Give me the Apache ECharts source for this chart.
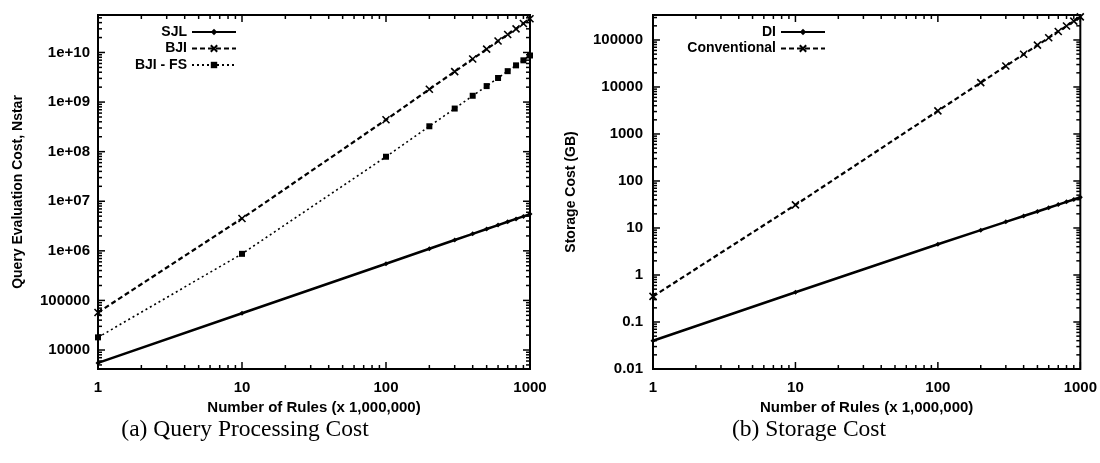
<!DOCTYPE html>
<html>
<head>
<meta charset="utf-8">
<script src="https://cdn.jsdelivr.net/npm/echarts@6/dist/echarts.min.js"></script>
<style>
  html, body { margin: 0; padding: 0; background: #fff; }
  #chart { width: 1100px; height: 463px; }
</style>
</head>
<body>
<div id="chart"></div>
<script>
// number of rules (x 1,000,000)
var rules = [1, 10, 100, 200, 300, 400, 500, 600, 700, 800, 900, 1000];

// (a) query evaluation cost, Nstar
var sjl = [5500, 55000, 550000, 1100000, 1650000, 2200000, 2750000, 3300000, 3850000, 4400000, 4950000, 5500000];
var bji = [57000, 4.5e6, 4.4e8, 1.81e9, 4.12e9, 7.4e9, 1.17e10, 1.7e10, 2.3e10, 3.0e10, 3.85e10, 4.8e10];
var bjiFs = [18000, 8.7e5, 7.9e7, 3.25e8, 7.4e8, 1.34e9, 2.1e9, 3.06e9, 4.2e9, 5.5e9, 6.95e9, 8.7e9];

// (b) storage cost (GB)
var di = [0.04, 0.43, 4.5, 9.0, 13.5, 18, 22.5, 27, 31.5, 36, 40.5, 45];
var conventional = [0.35, 31, 3100, 12400, 27900, 49600, 77500, 111600, 151900, 198400, 251100, 310000];

// ticks
var xMajor = [1, 10, 100, 1000];
var yMajorA = [1e4, 1e5, 1e6, 1e7, 1e8, 1e9, 1e10];
var yMajorB = [0.01, 0.1, 1, 10, 100, 1000, 10000, 100000];

function minorsOf(lo, hi) {
  var out = [];
  for (var d = Math.floor(Math.log10(lo)); d <= Math.ceil(Math.log10(hi)); d++) {
    for (var k = 2; k <= 9; k++) {
      var v = k * Math.pow(10, d);
      if (v > lo && v < hi) out.push(v);
    }
  }
  return out;
}

var yMinA = 4140, yMaxA = 5.7e10;
var yMinB = 0.01, yMaxB = 3.4e5;

var FONT = 'Liberation Sans';

function expLabel(v) {
  var e = Math.round(Math.log10(v));
  if (Math.abs(v / Math.pow(10, e) - 1) > 1e-6) return '';
  if (e >= 6) return '1e+' + (e < 10 ? '0' : '') + e;
  if (e < 0) return Math.pow(10, e).toFixed(-e);
  return String(Math.pow(10, e));
}

function pairs(ys) {
  return rules.map(function (x, i) { return [x, ys[i]]; });
}

var cross = 'path://M0,0L10,10M10,0L0,10';

function xAxisFor(grid) {
  return {
    type: 'log', logBase: 10, gridIndex: grid, min: 1, max: 1000,
    name: 'Number of Rules (x 1,000,000)', nameLocation: 'middle', nameGap: 22,
    nameTextStyle: { fontFamily: FONT, fontSize: 15, fontWeight: 'bold', color: '#000' },
    axisLine: { show: false }, axisTick: { show: false }, splitLine: { show: false },
    axisLabel: { formatter: expLabel, margin: 11, fontFamily: FONT, fontSize: 15, fontWeight: 'bold', color: '#000' }
  };
}

function yAxisFor(grid, min, max, name, gap, margin) {
  return {
    type: 'log', logBase: 10, gridIndex: grid, min: min, max: max,
    name: name, nameLocation: 'middle', nameGap: gap,
    nameTextStyle: { fontFamily: FONT, fontSize: 14, fontWeight: 'bold', color: '#000' },
    axisLine: { show: false }, axisTick: { show: false }, splitLine: { show: false },
    axisLabel: { formatter: expLabel, margin: margin, fontFamily: FONT, fontSize: 15, fontWeight: 'bold', color: '#000' }
  };
}

// small inward ticks on all four sides, placed by the axes' own scales
function tickSeries(grid, dim, values, len, ref) {
  return {
    type: 'custom', xAxisIndex: grid, yAxisIndex: grid, silent: true, z: 5,
    data: values.map(function (v) { return dim === 'x' ? [v, ref] : [ref, v]; }),
    renderItem: function (params, api) {
      var cs = params.coordSys;
      var p = api.coord([api.value(0), api.value(1)]);
      var st = { stroke: '#000', lineWidth: 1.5 };
      if (dim === 'x') {
        var b = cs.y + cs.height;
        return { type: 'group', children: [
          { type: 'line', shape: { x1: p[0], y1: b, x2: p[0], y2: b - len }, style: st },
          { type: 'line', shape: { x1: p[0], y1: cs.y, x2: p[0], y2: cs.y + len }, style: st }
        ] };
      }
      var r = cs.x + cs.width;
      return { type: 'group', children: [
        { type: 'line', shape: { x1: cs.x, y1: p[1], x2: cs.x + len, y2: p[1] }, style: st },
        { type: 'line', shape: { x1: r, y1: p[1], x2: r - len, y2: p[1] }, style: st }
      ] };
    }
  };
}

function lineSeries(name, grid, ys, symbol, size, dash, width) {
  return {
    name: name, type: 'line', xAxisIndex: grid, yAxisIndex: grid,
    data: pairs(ys), symbol: symbol, symbolSize: size, showAllSymbol: true,
    lineStyle: { color: '#000', width: width, type: dash },
    itemStyle: { color: '#000', borderColor: '#000', borderWidth: symbol === cross ? 1.6 : 0 },
    z: 3
  };
}

var legendBase = {
  orient: 'vertical', align: 'right', top: 25, padding: 0,
  itemWidth: 44, itemHeight: 8, itemGap: 2.5,
  textStyle: { fontFamily: FONT, fontSize: 14, fontWeight: 'bold', color: '#000' }
};

var chart = echarts.init(document.getElementById('chart'));
chart.setOption({
  backgroundColor: '#fff',
  animation: false,
  grid: [
    { left: 98, top: 15, width: 432, height: 354, show: true, borderColor: '#000', borderWidth: 2 },
    { left: 653, top: 15, width: 429, height: 354, show: true, borderColor: '#000', borderWidth: 2 }
  ],
  xAxis: [xAxisFor(0), xAxisFor(1)],
  yAxis: [
    yAxisFor(0, yMinA, yMaxA, 'Query Evaluation Cost, Nstar', 73, 8),
    yAxisFor(1, yMinB, yMaxB, 'Storage Cost (GB)', 75, 10)
  ],
  legend: [
    Object.assign({ data: ['SJL', 'BJI', 'BJI - FS'], right: 1100 - 237 }, legendBase),
    Object.assign({ data: ['DI', 'Conventional'], right: 1100 - 826 }, legendBase)
  ],
  graphic: [
    { type: 'text', x: 245, y: 430, style: { text: '(a) Query Processing Cost', align: 'center', verticalAlign: 'middle', font: '23.5px "Liberation Serif"', fill: '#000' } },
    { type: 'text', x: 809, y: 430, style: { text: '(b) Storage Cost', align: 'center', verticalAlign: 'middle', font: '23.5px "Liberation Serif"', fill: '#000' } }
  ],
  series: [
    lineSeries('SJL', 0, sjl, 'diamond', 5, 'solid', 2.5),
    lineSeries('BJI', 0, bji, cross, 7, [5, 3], 2.2),
    lineSeries('BJI - FS', 0, bjiFs, 'rect', 6, [2, 3], 1.6),
    lineSeries('DI', 1, di, 'diamond', 5, 'solid', 2.5),
    lineSeries('Conventional', 1, conventional, cross, 7, [5, 3], 2.2),
    tickSeries(0, 'x', xMajor, 7, 1e6),
    tickSeries(0, 'x', minorsOf(1, 1000), 4, 1e6),
    tickSeries(0, 'y', yMajorA, 7, 10),
    tickSeries(0, 'y', minorsOf(yMinA, yMaxA), 4, 10),
    tickSeries(1, 'x', xMajor, 7, 1),
    tickSeries(1, 'x', minorsOf(1, 1000), 4, 1),
    tickSeries(1, 'y', yMajorB, 7, 10),
    tickSeries(1, 'y', minorsOf(yMinB, yMaxB), 4, 10)
  ]
});
</script>
</body>
</html>
